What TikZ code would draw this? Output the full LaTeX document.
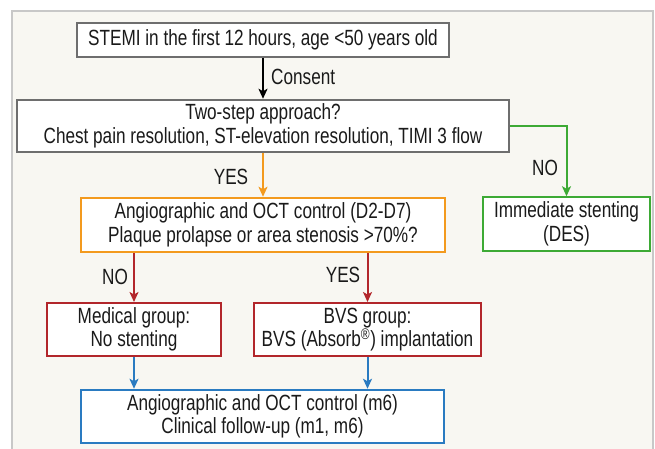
\documentclass[tikz,border=0pt]{standalone}
\usepackage{fontspec}
\setmainfont{Liberation Sans}[FakeStretch=0.78]
\usetikzlibrary{arrows.meta}
\definecolor{panelfill}{HTML}{F8F7F2}
\definecolor{panelborder}{HTML}{C8C8C8}
\definecolor{boxgray}{HTML}{6E6E6E}
\definecolor{txt}{HTML}{1A1A1A}
\definecolor{orng}{HTML}{F39A1E}
\definecolor{grn}{HTML}{3DAA35}
\definecolor{dred}{HTML}{B2262B}
\definecolor{blu}{HTML}{2A7BC1}
\tikzset{
  box/.style={draw, fill=white, inner sep=0pt, align=center, text=txt,
    font=\fontsize{22}{23.5}\selectfont},
  lbl/.style={inner sep=0pt, text=txt, font=\fontsize{22}{23.5}\selectfont},
  arr/.style={line width=2pt, -{Stealth[length=10pt,width=9pt,inset=2.5pt]}},
}
\begin{document}
\begin{tikzpicture}[x=1pt,y=-1pt]
\useasboundingbox (0,0) rectangle (655,449);
\clip (0,0) rectangle (655,449);
\fill[white] (0,0) rectangle (655,449);
\fill[panelfill] (12,11) rectangle (653,470);
\draw[panelborder, line width=1.5pt] (12,470) -- (12,11) -- (653,11) -- (653,470);

\node[box, draw=boxgray, line width=1.5pt, minimum width=372pt, minimum height=34pt]
  (b1) at (263,40) {STEMI in the first 12 hours, age <50 years old};
\node[box, draw=boxgray, line width=2.5pt, minimum width=492pt, minimum height=52pt]
  (b2) at (263,126) {Two-step approach?\\Chest pain resolution, ST-elevation resolution, TIMI 3 flow};
\node[box, draw=orng, line width=2.5pt, minimum width=364pt, minimum height=54pt]
  (b3) at (263,225) {Angiographic and OCT control (D2-D7)\\Plaque prolapse or area stenosis >70\%?};
\node[box, draw=grn, line width=1.5pt, minimum width=167pt, minimum height=54pt]
  (imm) at (566.5,224) {Immediate stenting\\(DES)};
\node[box, draw=dred, line width=2pt, minimum width=174pt, minimum height=53pt]
  (med) at (134,329.5) {Medical group:\\No stenting};
\node[box, draw=dred, line width=2pt, minimum width=227pt, minimum height=53pt]
  (bvs) at (367.5,329.5) {BVS group:\\BVS (Absorb\textsuperscript{®}) implantation};
\node[box, draw=blu, line width=2.5pt, minimum width=363pt, minimum height=53pt]
  (fin) at (262.5,416.5) {Angiographic and OCT control (m6)\\Clinical follow-up (m1, m6)};

\draw[arr, black] (b1.south) -- (b2.north);
\node[lbl, anchor=west] (consent) at (271,77) {Consent};
\draw[arr, orng] (b2.south) -- (b3.north);
\node[lbl] (yes1) at (231,177) {YES};
\draw[arr, grn] (b2.east) -| (imm.north);
\node[lbl] (no1) at (545,168) {NO};
\draw[arr, dred] (med.north |- b3.south) -- (med.north);
\node[lbl] (no2) at (115,277) {NO};
\draw[arr, dred] (bvs.north |- b3.south) -- (bvs.north);
\node[lbl] (yes2) at (343,275) {YES};
\draw[arr, blu] (med.south) -- (med.south |- fin.north);
\draw[arr, blu] (bvs.south) -- (bvs.south |- fin.north);
\end{tikzpicture}
\end{document}
